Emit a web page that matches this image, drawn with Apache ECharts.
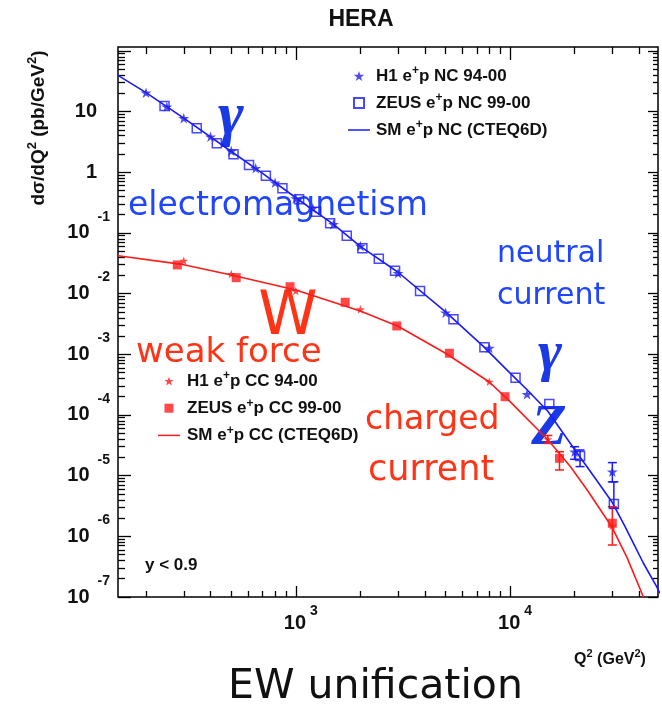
<!DOCTYPE html>
<html>
<head>
<meta charset="utf-8">
<script src="https://cdn.jsdelivr.net/npm/echarts@6/dist/echarts.min.js"></script>
<style>html,body{margin:0;padding:0;background:#fff}#c{width:662px;height:706px}</style>
</head>
<body>
<div id="c"></div>
<script>
// ---- data ----
const ncH1Q2 = [200, 250, 300, 400, 500, 650, 800, 1000, 1200, 1500, 2000, 3000, 5000, 8000, 12000, 20000, 30000];
const ncH1Val = [20.5, 12.0, 7.77, 3.86, 2.25, 1.16, 0.674, 0.37, 0.255, 0.139, 0.061, 0.0216, 0.00485, 0.00127, 2.19e-4, 2.48e-5, 1.16e-5];
const ncZeusQ2 = [244, 345, 428, 512, 605, 725, 866, 1036, 1244, 1446, 1729, 2045, 2440, 2905, 3800, 5440, 7590, 10600, 15240, 21200, 30500];
const ncZeusVal = [12.4, 5.3, 3.0, 1.98, 1.32, 0.88, 0.545, 0.359, 0.224, 0.145, 0.0903, 0.0559, 0.0375, 0.0239, 0.01107, 0.00378, 0.00131, 4.12e-4, 1.52e-4, 2.11e-5, 3.41e-6];
const ccH1Q2 = [300, 500, 1000, 2000, 8000, 15000, 30000];
const ccH1Val = [0.0349, 0.0211, 0.0111, 0.0055, 3.54e-4, 3.97e-5, 1.5e-6];
const ccZeusQ2 = [280, 527, 940, 1700, 2960, 5210, 9480, 17000, 30000];
const ccZeusVal = [0.0297, 0.0183, 0.0130, 0.0072, 0.00293, 0.00104, 2.0e-4, 1.93e-5, 1.64e-6];

const ncCurveQ2 = [148, 200, 300, 500, 700, 1000, 1500, 2000, 3000, 5000, 7500, 10000, 12000, 15000, 20000, 25000, 30000, 34400, 37600, 41900, 48300, 50000];
const ncCurveVal = [39.5, 20.5, 7.8, 2.2, 0.96, 0.38, 0.138, 0.060, 0.0225, 0.0050, 0.00135, 4.9e-4, 2.6e-4, 1.15e-4, 2.7e-5, 9.0e-6, 3.6e-6, 1.45e-6, 7.7e-7, 3.6e-7, 1.48e-7, 1.15e-7];
const ccCurveQ2 = [148, 300, 500, 1000, 2000, 3000, 5000, 8000, 10000, 15000, 19100, 22900, 29800, 35100, 41900, 45000];
const ccCurveVal = [0.042, 0.030, 0.0203, 0.0115, 0.00518, 0.0029, 0.00104, 3.5e-4, 1.66e-4, 3.9e-5, 1.41e-5, 5.8e-6, 1.44e-6, 4.5e-7, 1.0e-7, 5e-8];

// error bars: Q2, low, high
const ncErrQ2 = [20000, 21200, 30000, 30500];
const ncErrLo = [1.86e-5, 1.41e-5, 7.9e-6, 2.93e-6];
const ncErrHi = [3.0e-5, 2.65e-5, 1.64e-5, 7.9e-6];
const ccErrQ2 = [15000, 17000, 30000];
const ccErrLo = [3.4e-5, 1.24e-5, 7.2e-7];
const ccErrHi = [4.6e-5, 2.48e-5, 3.08e-6];

// axis ticks
const xMajorTicks = [1000, 10000];
const xMinorTicks = [200, 300, 400, 500, 600, 700, 800, 900, 2000, 3000, 4000, 5000, 6000, 7000, 8000, 9000, 20000, 30000, 40000];
const yMajorTicks = [1e-7, 1e-6, 1e-5, 1e-4, 1e-3, 1e-2, 1e-1, 1, 10, 100];
const yLabelTicks = [1e-7, 1e-6, 1e-5, 1e-4, 1e-3, 1e-2, 1e-1, 1, 10];
const yMinorTicks = [];
yMajorTicks.slice(0, 9).forEach(d => { for (let k = 2; k <= 9; k++) yMinorTicks.push(+(k * d).toPrecision(3)); });

const X_MIN = 148, X_MAX = 49000, Y_MIN = 1e-7, Y_MAX = 116;

const BLUE = '#1a1aff', RED = '#ff1a1a';
const STAR = 'path://M100,0L122.45,69.1L195.1,69.1L136.3,111.8L158.8,180.9L100,138.2L41.2,180.9L63.7,111.8L4.9,69.1L77.55,69.1Z';
const SQUARE = 'path://M0,0H10V10H0Z';
const LINEICON = 'path://M0,0H44V3H0Z';
const zip = (a, b) => a.map((v, i) => [v, b[i]]);
const zip3 = (a, b, c) => a.map((v, i) => [v, b[i], c[i]]);

const FONT = 'Liberation Sans';
function yLabel(v) {
  const e = Math.round(Math.log10(v));
  if (e === 0) return '{p|1}';
  if (e === 1) return '{p|10}';
  return '{b|10}{e|' + e + '}';
}
function xLabel(v) {
  const e = Math.round(Math.log10(v));
  return '{b|10}{e|' + e + '}';
}
function xAx(pos, ticks, len, labels) {
  return {
    type: 'log', logBase: 10, position: pos, min: X_MIN, max: X_MAX,
    axisLine: { show: false }, splitLine: { show: false },
    axisTick: { show: true, inside: true, length: len, customValues: ticks, lineStyle: { color: '#000', width: 1.3 } },
    axisLabel: labels ? {
      show: true, customValues: xMajorTicks, margin: 16, formatter: xLabel,
      rich: {
        b: { fontFamily: FONT, fontSize: 20, fontWeight: 'bold', color: '#111', lineHeight: 20, padding: [0, 0, 0, 10] },
        e: { fontFamily: FONT, fontSize: 14, fontWeight: 'bold', color: '#111', lineHeight: 14, padding: [0, 0, 24, 4] }
      }
    } : { show: false }
  };
}
function yAx(pos, ticks, len, labels) {
  return {
    type: 'log', logBase: 10, position: pos, min: Y_MIN, max: Y_MAX,
    axisLine: { show: false }, splitLine: { show: false },
    axisTick: { show: true, inside: true, length: len, customValues: ticks, lineStyle: { color: '#000', width: 1.3 } },
    axisLabel: labels ? {
      show: true, customValues: yLabelTicks, margin: 8, formatter: yLabel,
      rich: {
        p: { fontFamily: FONT, fontSize: 20, fontWeight: 'bold', color: '#111', lineHeight: 22, padding: [0, 13, 0, 0] },
        b: { fontFamily: FONT, fontSize: 20, fontWeight: 'bold', color: '#111', lineHeight: 22 },
        e: { fontFamily: FONT, fontSize: 14, fontWeight: 'bold', color: '#111', lineHeight: 14, padding: [0, 0, 32, 8] }
      }
    } : { show: false }
  };
}
function legendFmt(name) {
  const i = name.indexOf('e+p');
  return '{a0|' + name.slice(0, i) + 'e}{s|+}{a|p' + name.slice(i + 3) + '}';
}
function legendRich(pad) {
  return {
    a0: { fontFamily: FONT, fontSize: 17, fontWeight: 'bold', color: '#111', lineHeight: 20, padding: [0, 0, 0, pad] },
    a: { fontFamily: FONT, fontSize: 17, fontWeight: 'bold', color: '#111', lineHeight: 20 },
    s: { fontFamily: FONT, fontSize: 12, fontWeight: 'bold', color: '#111', lineHeight: 10, padding: [0, 0, 10, 0] }
  };
}
function errSeries(name, data, color) {
  return {
    type: 'custom', name: name, data: data, clip: true, z: 3,
    encode: { x: 0, y: [1, 2] },
    renderItem: function (params, api) {
      const q = api.value(0);
      const p1 = api.coord([q, api.value(1)]);
      const p2 = api.coord([q, api.value(2)]);
      const w = 4.5;
      const st = { stroke: color, lineWidth: 1.5 };
      return {
        type: 'group', children: [
          { type: 'line', shape: { x1: p1[0], y1: p1[1], x2: p2[0], y2: p2[1] }, style: st },
          { type: 'line', shape: { x1: p1[0] - w, y1: p1[1], x2: p1[0] + w, y2: p1[1] }, style: st },
          { type: 'line', shape: { x1: p2[0] - w, y1: p2[1], x2: p2[0] + w, y2: p2[1] }, style: st }
        ]
      };
    }
  };
}

const chart = echarts.init(document.getElementById('c'), null, { renderer: 'canvas' });
const annBlue = '#1f45ff', annRed = '#ff3316';
const comic = 'DejaVu Sans';
chart.setOption({
  animation: false,
  backgroundColor: '#fff',
  grid: { left: 118, top: 47, right: 4, bottom: 109, show: true, borderColor: '#000', borderWidth: 1.5, backgroundColor: 'transparent', outerBoundsMode: 'none' },
  xAxis: [
    xAx('bottom', xMinorTicks, 6, true),
    xAx('bottom', xMajorTicks, 11, false),
    xAx('top', xMinorTicks, 7, false),
    xAx('top', xMajorTicks, 13, false)
  ],
  yAxis: [
    yAx('left', yMinorTicks, 7, true),
    yAx('left', yMajorTicks, 13, false),
    yAx('right', yMinorTicks, 5, false),
    yAx('right', yMajorTicks, 10, false)
  ],
  legend: [
    {
      data: [
        { name: 'H1 e+p NC 94-00', icon: STAR },
        { name: 'ZEUS e+p NC 99-00', icon: SQUARE },
        { name: 'SM e+p NC (CTEQ6D)', icon: LINEICON }
      ],
      orient: 'vertical', left: 343, top: 60, itemWidth: 22, itemHeight: 10, itemGap: 5, symbolKeepAspect: true,
      selectedMode: false, formatter: legendFmt, textStyle: { rich: legendRich(1) }
    },
    {
      data: [
        { name: 'H1 e+p CC 94-00', icon: STAR },
        { name: 'ZEUS e+p CC 99-00', icon: SQUARE },
        { name: 'SM e+p CC (CTEQ6D)', icon: LINEICON }
      ],
      orient: 'vertical', left: 153, top: 365, itemWidth: 22, itemHeight: 9, itemGap: 5.2, symbolKeepAspect: true,
      selectedMode: false, formatter: legendFmt, textStyle: { rich: legendRich(2) }
    }
  ],
  series: [
    { type: 'line', name: 'SM e+p NC (CTEQ6D)', data: zip(ncCurveQ2, ncCurveVal), symbol: 'none', clip: true, z: 2,
      lineStyle: { color: BLUE, width: 1.6 }, itemStyle: { color: BLUE } },
    { type: 'line', name: 'SM e+p CC (CTEQ6D)', data: zip(ccCurveQ2, ccCurveVal), symbol: 'none', clip: true, z: 2,
      lineStyle: { color: RED, width: 1.6 }, itemStyle: { color: RED } },
    errSeries('ncErr', zip3(ncErrQ2, ncErrLo, ncErrHi), BLUE),
    errSeries('ccErr', zip3(ccErrQ2, ccErrLo, ccErrHi), RED),
    { type: 'scatter', name: 'ZEUS e+p NC 99-00', data: zip(ncZeusQ2, ncZeusVal), symbol: 'rect', symbolSize: 9, z: 4,
      itemStyle: { color: 'rgba(255,255,255,0)', borderColor: BLUE, borderWidth: 1.5 } },
    { type: 'scatter', name: 'H1 e+p NC 94-00', data: zip(ncH1Q2, ncH1Val), symbol: STAR, symbolSize: 11, symbolKeepAspect: true, z: 5,
      itemStyle: { color: '#2020e8' } },
    { type: 'scatter', name: 'ZEUS e+p CC 99-00', data: zip(ccZeusQ2, ccZeusVal), symbol: 'rect', symbolSize: 9, z: 4,
      itemStyle: { color: RED } },
    { type: 'scatter', name: 'H1 e+p CC 94-00', data: zip(ccH1Q2, ccH1Val), symbol: STAR, symbolSize: 9, symbolKeepAspect: true, z: 5,
      itemStyle: { color: RED } }
  ],
  graphic: [
    { type: 'text', x: 361, y: 20, style: { text: 'HERA', font: 'bold 23px "Liberation Sans"', fill: '#111', align: 'center', verticalAlign: 'middle', textAlign: 'center', textVerticalAlign: 'middle' } },
    { type: 'text', x: 39, y: 128, rotation: Math.PI / 2, style: {
        text: '{a|d\u03c3/dQ}{s|2}{a| (pb/GeV}{s|2}{a|)}', align: 'center', verticalAlign: 'middle', textAlign: 'center', textVerticalAlign: 'middle',
        rich: {
          a: { fontFamily: FONT, fontSize: 19, fontWeight: 'bold', fill: '#111', color: '#111', lineHeight: 20 },
          s: { fontFamily: FONT, fontSize: 13, fontWeight: 'bold', fill: '#111', color: '#111', lineHeight: 12, padding: [0, 0, 14, 0] }
        } } },
    { type: 'text', x: 610, y: 660, style: {
        text: '{a|Q}{s|2}{a| (GeV}{s|2}{a|)}', align: 'center', verticalAlign: 'middle', textAlign: 'center', textVerticalAlign: 'middle',
        rich: {
          a: { fontFamily: FONT, fontSize: 16, fontWeight: 'bold', fill: '#111', color: '#111', lineHeight: 18 },
          s: { fontFamily: FONT, fontSize: 11, fontWeight: 'bold', fill: '#111', color: '#111', lineHeight: 10, padding: [0, 0, 12, 0] }
        } } },
    { type: 'text', x: 145, y: 565, style: { text: 'y < 0.9', font: 'bold 17px "Liberation Sans"', fill: '#111', align: 'left', verticalAlign: 'middle', textAlign: 'left', textVerticalAlign: 'middle' } },
    { type: 'text', x: 231, y: 118, style: { text: '\u03b3', font: 'italic bold 62px "Liberation Serif"', fill: '#1a3ae6', align: 'center', verticalAlign: 'middle', textAlign: 'center', textVerticalAlign: 'middle' } },
    { type: 'text', x: 128, y: 206, style: { text: 'electromagnetism', font: '33px "' + comic + '"', fill: annBlue, align: 'left', verticalAlign: 'middle', textAlign: 'left', textVerticalAlign: 'middle' } },
    { type: 'text', x: 497, y: 254, style: { text: 'neutral', font: '30px "' + comic + '"', fill: annBlue, align: 'left', verticalAlign: 'middle', textAlign: 'left', textVerticalAlign: 'middle' } },
    { type: 'text', x: 497, y: 296, style: { text: 'current', font: '30px "' + comic + '"', fill: annBlue, align: 'left', verticalAlign: 'middle', textAlign: 'left', textVerticalAlign: 'middle' } },
    { type: 'text', x: 288, y: 318, style: { text: 'W', font: '60px "' + comic + '"', fill: annRed, align: 'center', verticalAlign: 'middle', textAlign: 'center', textVerticalAlign: 'middle' } },
    { type: 'text', x: 136, y: 353, style: { text: 'weak force', font: '34px "' + comic + '"', fill: annRed, align: 'left', verticalAlign: 'middle', textAlign: 'left', textVerticalAlign: 'middle' } },
    { type: 'text', x: 550, y: 355, style: { text: '\u03b3', font: 'italic bold 58px "Liberation Serif"', fill: '#1a3ae6', align: 'center', verticalAlign: 'middle', textAlign: 'center', textVerticalAlign: 'middle' } },
    { type: 'text', x: 549, y: 429, style: { text: 'Z', font: 'italic bold 58px "Liberation Serif"', fill: '#1a3ae6', align: 'center', verticalAlign: 'middle', textAlign: 'center', textVerticalAlign: 'middle' } },
    { type: 'text', x: 365, y: 420, style: { text: 'charged', font: '33px "' + comic + '"', fill: annRed, align: 'left', verticalAlign: 'middle', textAlign: 'left', textVerticalAlign: 'middle' } },
    { type: 'text', x: 368, y: 471, style: { text: 'current', font: '35px "' + comic + '"', fill: annRed, align: 'left', verticalAlign: 'middle', textAlign: 'left', textVerticalAlign: 'middle' } },
    { type: 'text', x: 228, y: 687, style: { text: 'EW unification', font: '41px "' + comic + '"', fill: '#111', align: 'left', verticalAlign: 'middle', textAlign: 'left', textVerticalAlign: 'middle' } }
  ]
});
</script>
</body>
</html>
